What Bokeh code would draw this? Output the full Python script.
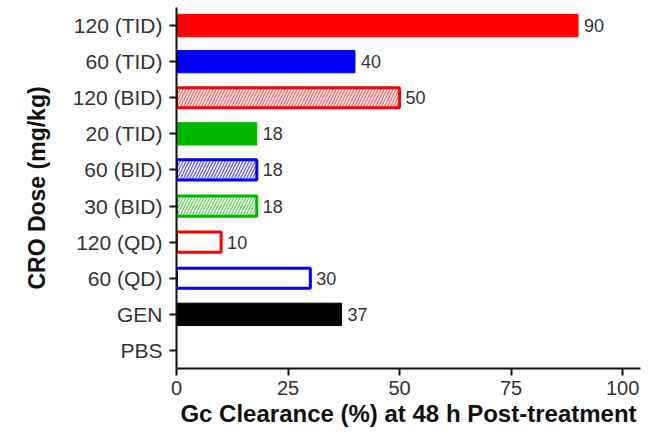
from bokeh.plotting import figure
from bokeh.models import ColumnDataSource, FactorRange, Range1d, FixedTicker
from bokeh.embed import file_html
from bokeh.resources import INLINE
from bokeh.core.properties import value

groups = ["120 (TID)", "60 (TID)", "120 (BID)", "20 (TID)", "60 (BID)",
          "30 (BID)", "120 (QD)", "60 (QD)", "GEN", "PBS"]
clearance = [90, 40, 50, 18, 18, 18, 10, 30, 37, 0]
colors = ["#ff0000", "#0000ff", "#ff0000", "#00b800", "#0000ff",
          "#00b800", "#ff0000", "#0000ff", "#000000", "#000000"]
styles = ["solid", "solid", "hatch", "solid", "hatch",
          "hatch", "open", "open", "solid", "none"]
x_ticks = [0, 25, 50, 75, 100]

FONT = "Liberation Sans"

p = figure(width=658, height=432, output_backend="svg", toolbar_location=None,
           y_range=FactorRange(factors=groups[::-1], range_padding=0),
           x_range=Range1d(0, 104),
           min_border_left=176, min_border_right=18, min_border_top=7, min_border_bottom=64)
p.outline_line_color = None
p.grid.visible = False

def sub(style):
    idx = [i for i, s in enumerate(styles) if s == style]
    return ColumnDataSource(dict(y=[groups[i] for i in idx],
                                 x=[clearance[i] for i in idx],
                                 c=[colors[i] for i in idx]))

p.hbar(y="y", right="x", left=0, height=0.62, source=sub("solid"),
       fill_color="c", line_color="c", line_width=1)
p.hbar(y="y", right="x", left=0, height=0.56, source=sub("hatch"),
       fill_color="#fff6f6", line_color="c", line_width=3,
       hatch_pattern="/", hatch_color="c", hatch_alpha=0.6, hatch_scale=6, hatch_weight=1.3)
p.hbar(y="y", right="x", left=0, height=0.56, source=sub("open"),
       fill_color="white", line_color="c", line_width=3)

lab_idx = [i for i, s in enumerate(styles) if s != "none"]
lab = ColumnDataSource(dict(y=[groups[i] for i in lab_idx],
                            x=[clearance[i] for i in lab_idx],
                            t=[str(clearance[i]) for i in lab_idx]))
p.text(x="x", y="y", text="t", source=lab, x_offset=6, text_baseline="middle",
       text_font=value(FONT), text_font_size="18px", text_color="#333333")

for ax in (p.xaxis[0], p.yaxis[0]):
    ax.axis_line_width = 2
    ax.axis_line_color = "#111111"
    ax.major_tick_line_width = 2
    ax.major_tick_line_color = "#111111"
    ax.major_tick_out = 7
    ax.major_tick_in = 0
    ax.minor_tick_line_color = None
    ax.major_label_text_font = FONT
    ax.major_label_text_font_size = "20px"
    ax.major_label_text_color = "#333333"
    ax.axis_label_text_font = FONT
    ax.axis_label_text_font_style = "bold"
    ax.axis_label_text_color = "#111111"

p.xaxis.ticker = FixedTicker(ticks=x_ticks)
p.xaxis.axis_label = "Gc Clearance (%) at 48 h Post-treatment"
p.xaxis.axis_label_text_font_size = "24px"
p.xaxis.axis_label_standoff = 2
p.xaxis.major_label_standoff = 5
p.yaxis.axis_label = "CRO Dose (mg/kg)"
p.yaxis.axis_label_text_font_size = "23px"
p.yaxis.major_label_text_font_size = "21px"
p.yaxis.axis_label_standoff = 20
p.yaxis.major_label_standoff = 7

open("out.html", "w").write(file_html(p, INLINE))
